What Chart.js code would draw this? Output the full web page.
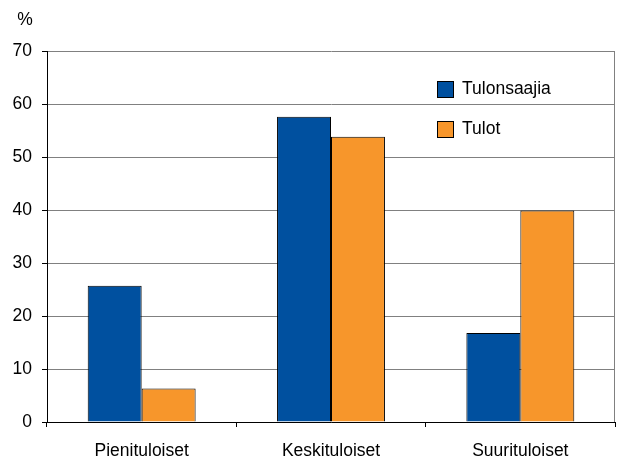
<!DOCTYPE html>
<html>
<head>
<meta charset="utf-8">
<script src="https://cdn.jsdelivr.net/npm/chart.js@4/dist/chart.umd.min.js"></script>
<style>
  html, body { margin: 0; padding: 0; background: #fff; }
  canvas { display: block; }
</style>
</head>
<body>
<canvas id="chart" width="617" height="459"></canvas>
<script>
// Tiedot
var categories = ['Pienituloiset', 'Keskituloiset', 'Suurituloiset'];
var tulonsaajia = [25.7, 57.6, 16.8];
var tulot = [6.3, 53.8, 39.9];
var seriesNames = ['Tulonsaajia', 'Tulot'];
var yTicks = [0, 10, 20, 30, 40, 50, 60, 70];

var FONT = { family: '"Liberation Sans", Arial, sans-serif', size: 17.5 };

// Selite, %-merkki ja oikea reuna
var extras = {
  id: 'extras',
  afterDraw: function (chart) {
    var c = chart.ctx, a = chart.chartArea;
    c.save();
    c.strokeStyle = '#808080';
    c.lineWidth = 1;
    c.beginPath();
    c.moveTo(a.right - 0.5, a.top);
    c.lineTo(a.right - 0.5, a.bottom);
    c.stroke();

    c.font = FONT.size + 'px ' + FONT.family;
    c.fillStyle = '#000';
    c.textBaseline = 'middle';
    c.textAlign = 'center';
    c.fillText('%', 25, 20);

    c.textAlign = 'left';
    chart.data.datasets.forEach(function (ds, i) {
      var y = 81 + i * 40;
      c.fillStyle = ds.backgroundColor;
      c.fillRect(437, y, 17, 17);
      c.strokeStyle = '#000';
      c.strokeRect(437.5, y + 0.5, 16, 16);
      c.fillStyle = '#000';
      c.fillText(ds.label, 462, y + 8.5);
    });
    c.restore();
  }
};

var config = {
  type: 'bar',
  data: {
    labels: categories,
    datasets: [
      { label: seriesNames[0], data: tulonsaajia, backgroundColor: '#00509f', borderColor: '#000', borderWidth: 1 },
      { label: seriesNames[1], data: tulot, backgroundColor: '#f7962b', borderColor: '#000', borderWidth: 1 }
    ]
  },
  options: {
    responsive: false,
    animation: false,
    devicePixelRatio: 1,
    layout: { padding: { top: 51, right: 2, left: 0, bottom: 0 } },
    plugins: { legend: { display: false }, tooltip: { enabled: false } },
    datasets: { bar: { categoryPercentage: 0.57, barPercentage: 1.0 } },
    scales: {
      x: {
        grid: { drawOnChartArea: false, drawTicks: true, tickLength: 5, tickColor: '#000', offset: true },
        border: { color: '#000', width: 1 },
        ticks: { color: '#000', font: FONT, padding: 14, maxRotation: 0 },
        afterFit: function (s) { s.height = 37; }
      },
      y: {
        min: 0,
        max: 70,
        afterBuildTicks: function (s) { s.ticks = yTicks.map(function (v) { return { value: v }; }); },
        grid: { color: '#808080', lineWidth: 1, tickLength: 5, tickColor: '#000' },
        border: { color: '#000', width: 1 },
        ticks: { color: '#000', font: FONT, padding: 10 },
        afterFit: function (s) { s.width = 47; }
      }
    }
  },
  plugins: [extras]
};

new Chart(document.getElementById('chart').getContext('2d'), config);
</script>
</body>
</html>
